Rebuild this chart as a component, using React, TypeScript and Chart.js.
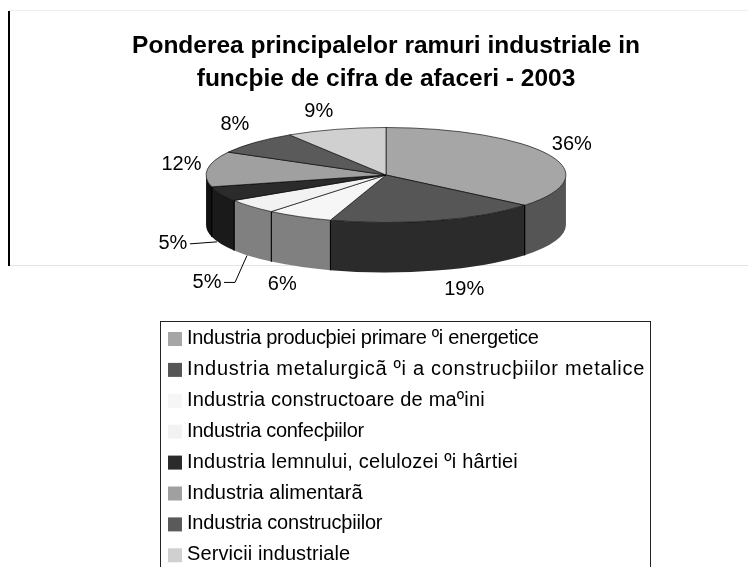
import React, { useEffect, useRef } from "react";
import { Chart, registerables } from "chart.js";

Chart.register(...registerables);

const titleLines = ["Ponderea principalelor ramuri industriale in", "funcþie de cifra de afaceri - 2003"];
const categories = [
  "Industria producþiei primare ºi energetice",
  "Industria metalurgicã ºi a construcþiilor metalice",
  "Industria constructoare de maºini",
  "Industria confecþiilor",
  "Industria lemnului, celulozei ºi hârtiei",
  "Industria alimentarã",
  "Industria construcþiilor",
  "Servicii industriale",
];
const values = [36, 19, 6, 5, 5, 12, 8, 9];
const topColors = ["#a6a6a6", "#565656", "#f6f6f6", "#f2f2f2", "#2b2b2b", "#a0a0a0", "#5a5a5a", "#d0d0d0"];
const wallColors = ["#555555", "#2b2b2b", "#808080", "#808080", "#1a1a1a", "#111111", "#2d2d2d", "#686868"];
// label offsets from the rim point at each slice's middle angle
const labelDx = [23, 28, -17, -44, -48, -26, -20, -17];
const labelDy = [-10, 69, 68, 76, 50, -5, -18, -18];
const legendSpacing = [-0.3, 0.7, 0.18, -0.3, 0.2, 0, -0.2, 0.1];

const CY = 175;
const RY = 47.5;
const DEPTH = 50;
const FONT = '"Liberation Sans", Arial, sans-serif';

const pie3d = {
  id: "pie3d",
  beforeDatasetsDraw(chart: any) {
    const ctx = chart.ctx;
    const arcs = chart.getDatasetMeta(0).data;
    const first = arcs[0];
    const cx = first.x;
    const rx = first.outerRadius;
    ctx.save();
    // side walls: only the front half (canvas angles 0..PI) is visible
    const T = Math.PI * 2;
    const cover: { i: number; p: number; q: number }[] = [];
    arcs.forEach((arc: any, i: number) => {
      const a0 = ((arc.startAngle % T) + T) % T;
      const a1 = a0 + (arc.endAngle - arc.startAngle);
      for (const shift of [0, -T]) {
        const p = Math.max(a0 + shift, 0);
        const q = Math.min(a1 + shift, Math.PI);
        if (q > p) cover.push({ i, p, q });
      }
    });
    cover.forEach(({ i, p, q }) => {
      ctx.beginPath();
      ctx.ellipse(cx, CY, rx, RY, 0, p, q, false);
      ctx.lineTo(cx + rx * Math.cos(q), CY + DEPTH + RY * Math.sin(q));
      ctx.ellipse(cx, CY + DEPTH, rx, RY, 0, q, p, true);
      ctx.closePath();
      ctx.fillStyle = wallColors[i];
      ctx.fill();
      ctx.strokeStyle = "#000";
      ctx.lineWidth = 1;
      ctx.beginPath();
      for (const a of [p, q]) {
        if (a > 0 && a < Math.PI) {
          ctx.moveTo(cx + rx * Math.cos(a), CY + RY * Math.sin(a));
          ctx.lineTo(cx + rx * Math.cos(a), CY + DEPTH + RY * Math.sin(a));
        }
      }
      ctx.stroke();
    });
    const k = RY / rx;
    ctx.translate(cx, CY);
    ctx.scale(1, k);
    ctx.translate(-cx, -first.y);
  },
  afterDatasetsDraw(chart: any) {
    const ctx = chart.ctx;
    ctx.restore();
    const arcs = chart.getDatasetMeta(0).data;
    const rx = arcs[0].outerRadius;
    const cx = arcs[0].x;
    ctx.save();
    ctx.fillStyle = "#000";
    ctx.font = "20px " + FONT;
    ctx.textAlign = "center";
    ctx.textBaseline = "middle";
    const pos = arcs.map((arc: any, i: number) => {
      const m = (arc.startAngle + arc.endAngle) / 2;
      return {
        x: cx + rx * Math.cos(m) + labelDx[i],
        y: CY + RY * Math.sin(m) + labelDy[i],
      };
    });
    values.forEach((v, i) => ctx.fillText(v + "%", pos[i].x, pos[i].y));
    // leader lines of the two small labels
    ctx.strokeStyle = "#000";
    ctx.lineWidth = 1;
    ctx.beginPath();
    ctx.moveTo(pos[3].x + 17, pos[3].y);
    ctx.lineTo(pos[3].x + 28, pos[3].y);
    ctx.lineTo(pos[3].x + 40, pos[3].y - 27);
    ctx.moveTo(pos[4].x + 17, pos[4].y);
    ctx.lineTo(pos[4].x + 44, pos[4].y - 2);
    ctx.stroke();
    ctx.restore();
  },
};

export default function App() {
  const ref = useRef<HTMLCanvasElement>(null);
  useEffect(() => {
    document.body.style.margin = "0";
    const chart = new Chart(ref.current!, {
      type: "pie",
      data: {
        labels: categories,
        datasets: [
          {
            data: values,
            backgroundColor: topColors,
            borderColor: "#000",
            borderWidth: 1,
            clip: false,
          } as any,
        ],
      },
      options: {
        responsive: false,
        animation: false,
        events: [],
        layout: { padding: { left: 24, right: 0, top: 0, bottom: 110 } },
        plugins: {
          legend: { display: false },
          tooltip: { enabled: false },
          title: {
            display: true,
            text: titleLines,
            color: "#000",
            font: { family: FONT, size: 24.5, weight: "bold", lineHeight: 1.37 },
            padding: { top: 29, bottom: 0 },
          },
        },
      },
      plugins: [pie3d],
    } as any);
    return () => chart.destroy();
  }, []);
  return (
    <div style={{ position: "absolute", left: 0, top: 0, width: 748, height: 567, overflow: "hidden", background: "#fff" }}>
      <div style={{ position: "absolute", left: 9, top: 10, width: 739, height: 1, background: "#eeeeee" }} />
      <div style={{ position: "absolute", left: 9, top: 265, width: 739, height: 1, background: "#e4e4e4" }} />
      <div style={{ position: "absolute", left: 8, top: 11, width: 2, height: 255, background: "#000" }} />
      <canvas ref={ref} width={748} height={567} style={{ position: "absolute", left: 0, top: 0 }} />
      <div
        style={{
          position: "absolute",
          left: 160,
          top: 321,
          width: 489,
          height: 260,
          border: "1px solid #222",
          fontFamily: FONT,
          fontSize: 20,
          color: "#000",
        }}
      >
        {categories.map((c, i) => (
          <div key={c} style={{ position: "absolute", left: 0, top: 0, whiteSpace: "nowrap", transform: `translateY(${i * 30.9}px)` }}>
            <span style={{ position: "absolute", left: 7, top: 10, width: 14, height: 14, background: topColors[i] }} />
            <span style={{ position: "absolute", left: 26, top: 4, lineHeight: "22px", whiteSpace: "nowrap", letterSpacing: legendSpacing[i] }}>{c}</span>
          </div>
        ))}
      </div>
    </div>
  );
}
